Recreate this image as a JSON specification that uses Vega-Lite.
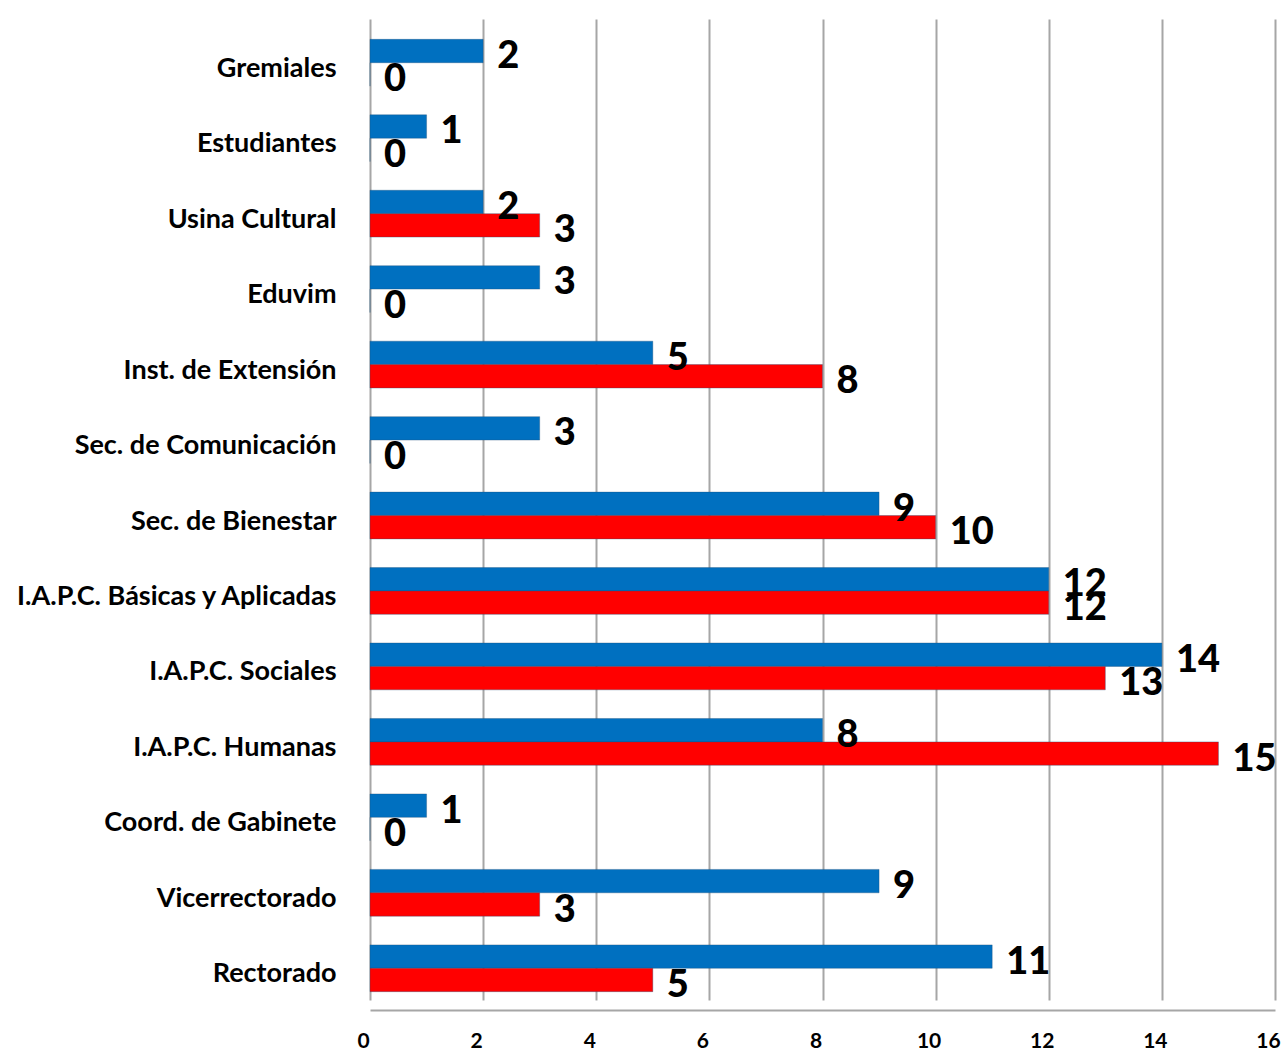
{
  "$schema": "https://vega.github.io/schema/vega-lite/v6.json",
  "width": 905,
  "height": 995,
  "autosize": {"type": "none"},
  "padding": {"left": 370, "top": 15, "right": 7, "bottom": 44},
  "config": {"view": {"stroke": null}, "font": "Lato"},
  "data": {
    "values": [
      {"cat": "Gremiales", "serie": "Serie 1", "valor": 2},
      {"cat": "Gremiales", "serie": "Serie 2", "valor": 0},
      {"cat": "Estudiantes", "serie": "Serie 1", "valor": 1},
      {"cat": "Estudiantes", "serie": "Serie 2", "valor": 0},
      {"cat": "Usina Cultural", "serie": "Serie 1", "valor": 2},
      {"cat": "Usina Cultural", "serie": "Serie 2", "valor": 3},
      {"cat": "Eduvim", "serie": "Serie 1", "valor": 3},
      {"cat": "Eduvim", "serie": "Serie 2", "valor": 0},
      {"cat": "Inst. de Extensión", "serie": "Serie 1", "valor": 5},
      {"cat": "Inst. de Extensión", "serie": "Serie 2", "valor": 8},
      {"cat": "Sec. de Comunicación", "serie": "Serie 1", "valor": 3},
      {"cat": "Sec. de Comunicación", "serie": "Serie 2", "valor": 0},
      {"cat": "Sec. de Bienestar", "serie": "Serie 1", "valor": 9},
      {"cat": "Sec. de Bienestar", "serie": "Serie 2", "valor": 10},
      {"cat": "I.A.P.C. Básicas y Aplicadas", "serie": "Serie 1", "valor": 12},
      {"cat": "I.A.P.C. Básicas y Aplicadas", "serie": "Serie 2", "valor": 12},
      {"cat": "I.A.P.C. Sociales", "serie": "Serie 1", "valor": 14},
      {"cat": "I.A.P.C. Sociales", "serie": "Serie 2", "valor": 13},
      {"cat": "I.A.P.C. Humanas", "serie": "Serie 1", "valor": 8},
      {"cat": "I.A.P.C. Humanas", "serie": "Serie 2", "valor": 15},
      {"cat": "Coord. de Gabinete", "serie": "Serie 1", "valor": 1},
      {"cat": "Coord. de Gabinete", "serie": "Serie 2", "valor": 0},
      {"cat": "Vicerrectorado", "serie": "Serie 1", "valor": 9},
      {"cat": "Vicerrectorado", "serie": "Serie 2", "valor": 3},
      {"cat": "Rectorado", "serie": "Serie 1", "valor": 11},
      {"cat": "Rectorado", "serie": "Serie 2", "valor": 5}
    ]
  },
  "encoding": {
    "y": {
      "field": "cat",
      "type": "nominal",
      "sort": ["Gremiales", "Estudiantes", "Usina Cultural", "Eduvim", "Inst. de Extensión", "Sec. de Comunicación", "Sec. de Bienestar", "I.A.P.C. Básicas y Aplicadas", "I.A.P.C. Sociales", "I.A.P.C. Humanas", "Coord. de Gabinete", "Vicerrectorado", "Rectorado"],
      "scale": {"range": [10, 991], "paddingInner": 0.38, "paddingOuter": 0.19},
      "axis": {"title": null, "ticks": false, "domain": false, "labelFontSize": 27, "labelFontWeight": "bold", "labelColor": "#000000", "labelPadding": 34, "labelLimit": 400, "labelOffset": 6}
    },
    "yOffset": {"field": "serie", "type": "nominal", "sort": ["Serie 1", "Serie 2"]},
    "x": {
      "field": "valor",
      "type": "quantitative",
      "scale": {"domain": [0, 16], "nice": false},
      "axis": {"title": null, "values": [0, 2, 4, 6, 8, 10, 12, 14, 16], "grid": true, "gridColor": "#a6a6a6", "gridWidth": 2, "ticks": false, "domainColor": "#a6a6a6", "domainWidth": 2, "labelFontSize": 21, "labelFontWeight": "bold", "labelColor": "#000000", "labelPadding": 20, "labelFlush": false, "labelOffset": -7}
    }
  },
  "layer": [
    {
      "mark": {"type": "bar", "stroke": "#1f4e79", "strokeWidth": 0.6, "strokeOpacity": 0.6},
      "encoding": {
        "color": {"field": "serie", "type": "nominal", "scale": {"domain": ["Serie 1", "Serie 2"], "range": ["#0070C0", "#FF0000"]}, "legend": null}
      }
    },
    {
      "mark": {"type": "text", "align": "left", "baseline": "middle", "dx": 14, "dy": 6, "fontSize": 38, "fontWeight": 900, "color": "#000000"},
      "encoding": {"text": {"field": "valor", "type": "quantitative"}}
    }
  ]
}
